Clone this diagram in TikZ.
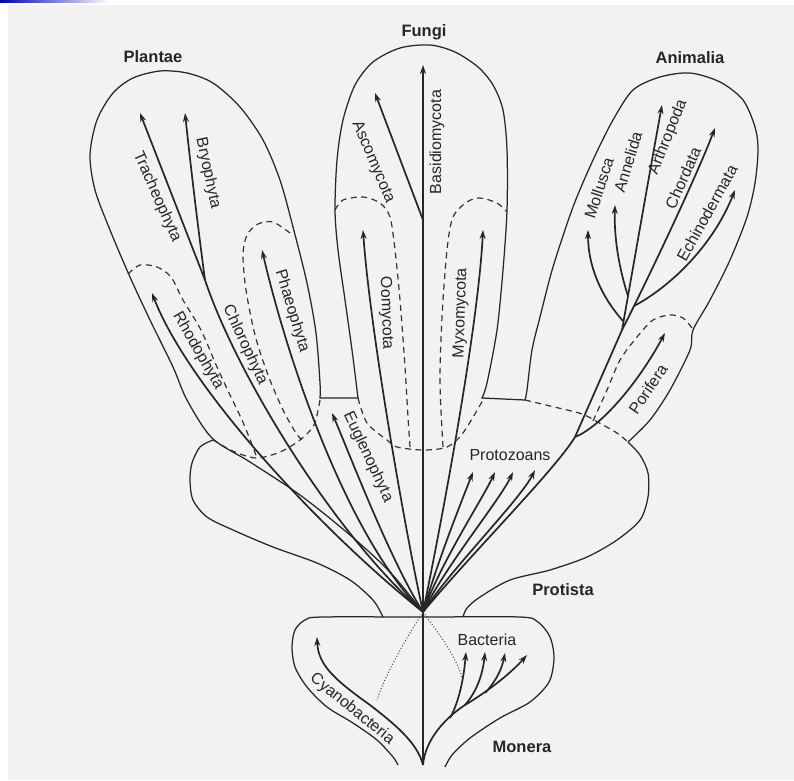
\documentclass[tikz,border=0pt]{standalone}
\usepackage{fontspec}
\setmainfont{Liberation Sans}
\usetikzlibrary{arrows.meta}

\begin{document}
\begin{tikzpicture}[x=1pt, y=-1pt,
    kingdomline/.style={line width=1.25pt, draw=black!85},
    dashline/.style={line width=1.2pt, draw=black!80, dash pattern=on 6pt off 4.5pt},
    branch/.style={line width=1.7pt, draw=black!85, -{Stealth[length=9pt,width=6pt]}},
    stemline/.style={line width=1.7pt, draw=black!85},
    dotline/.style={line width=1pt, draw=black!75, dotted},
    taxon/.style={font=\fontsize{16}{18}\selectfont, text=black!85, inner sep=1pt},
    kingdom/.style={font=\fontsize{16.5}{19}\selectfont\bfseries, text=black!85, inner sep=1pt}]

    % Page background
    \useasboundingbox (0,0) rectangle (794,780);
    \fill[white] (0,0) rectangle (794,780);
    \fill[black!5] (8,5) rectangle (794,780);
    \shade[left color=blue!70!black, right color=white] (0,0) rectangle (110,2.5);

    % Key points of the tree
    \coordinate (root) at (423,612);
    \coordinate (base) at (423,765);
    \coordinate (chloro) at (205,280);
    \coordinate (asco) at (423,220);
    \coordinate (pori) at (575,437);
    \coordinate (ani) at (622,330);

    % Kingdom outlines: Plantae, Fungi, Animalia
    \draw[kingdomline] plot[smooth] coordinates {(423,612) (390,572) (350,535) (300,495) (250,462) (212,438) (187,400) (173,367) (150,320) (130,277) (110,230) (95,190) (90,155) (97,120) (113,93) (133,78) (160,71) (187,73) (213,83) (240,107) (263,140) (280,180) (293,227) (307,283) (316,333) (320,383) (320,398)}
        -- plot[smooth] coordinates {(358,398) (352,350) (345,300) (338,250) (335,210) (337,160) (343,120) (355,85) (373,62) (400,48) (430,45) (455,52) (478,67) (493,85) (503,110) (507,150) (507,210) (503,270) (497,330) (487,383) (482,398)}
        -- plot[smooth] coordinates {(525,400) (527,390) (532,350) (540,317) (553,267) (573,207) (593,160) (613,120) (633,90) (660,77) (690,73) (720,82) (743,100) (755,127) (758,150) (755,183) (747,217) (730,260) (710,300) (693,330) (690,350) (670,390) (650,420) (628,442)};

    % Protista and Monera outlines
    \draw[kingdomline] plot[smooth] coordinates {(213,440) (200,447) (192,463) (190,480) (193,500) (207,517) (233,530) (273,547) (317,563) (350,580) (373,600) (383,617)};
    \draw[kingdomline] plot[smooth] coordinates {(628,442) (640,455) (648,473) (648,497) (640,520) (617,540) (587,557) (550,570) (510,580) (480,597) (467,608) (463,617)};
    \draw[kingdomline] plot[smooth] coordinates {(398,765) (393,757) (377,740) (353,723) (327,707) (307,687) (295,667) (292,647) (295,630) (305,620) (322,617) (423,617) (520,617) (538,622) (550,637) (554,658) (549,682) (530,702) (500,718) (470,738) (452,755) (445,767)};

    % Dashed boundaries
    \draw[dashline] plot[smooth] coordinates {(320,400) (314,425) (300,440) (280,452) (257,458) (235,452) (213,440)};
    \draw[dashline] plot[smooth] coordinates {(128,274) (140,265) (157,267) (171,277) (183,300) (201,330) (217,367) (230,395) (242,420) (251,442) (257,458)};
    \draw[dashline] plot[smooth] coordinates {(290,233) (273,222) (258,224) (247,235) (243,255) (246,290) (255,335) (268,375) (283,410) (296,433) (302,440)};
    \draw[dashline] plot[smooth] coordinates {(358,398) (367,423) (387,440) (397,447) (423,450) (447,447) (463,433) (483,400)};
    \draw[dashline] plot[smooth] coordinates {(335,210) (343,200) (363,197) (380,203) (390,217) (395,250) (400,300) (405,367) (408,417) (410,447)};
    \draw[dashline] plot[smooth] coordinates {(443,447) (440,383) (442,317) (447,250) (453,217) (467,202) (480,198) (497,203) (507,212)};
    \draw[dashline] plot[smooth] coordinates {(525,400) (550,406) (582,414) (603,425) (617,433) (628,442)};
    \draw[dashline] plot[smooth] coordinates {(593,421) (607,390) (620,360) (637,337) (653,320) (670,315) (683,318) (692,328)};

    % Trunk and Fungi
    \draw[branch] (base) -- (423,65) coordinate (basidio);
    \draw[branch] (asco) -- (375,93);

    % Plantae lineages
    \draw[branch] (root) .. controls (320,530) and (188,387) .. (152,293);
    \draw[stemline] (root) .. controls (330,530) and (235,370) .. (chloro);
    \draw[branch] (chloro) -- (140,113);
    \draw[branch] (chloro) .. controls (197,220) and (190,160) .. (185,113);
    \draw[branch] (root) .. controls (350,540) and (290,370) .. (262,250);

    % Protist lineages
    \draw[branch] (root) .. controls (390,560) and (350,455) .. (332,413);
    \draw[branch] (root) .. controls (405,530) and (370,330) .. (363,230);
    \draw[branch] (root) .. controls (440,530) and (478,330) .. (483,230);
    \draw[branch] (root) .. controls (438,560) and (462,500) .. (473,472);
    \draw[branch] (root) .. controls (442,560) and (482,500) .. (495,472);
    \draw[branch] (root) .. controls (446,565) and (500,500) .. (513,472);
    \draw[branch] (root) .. controls (450,570) and (520,500) .. (535,470);

    % Animalia lineages
    \draw[stemline] (root) .. controls (470,555) and (555,470) .. (pori) -- (ani);
    \draw[branch] (pori) .. controls (600,427) and (637,385) .. (665,333);
    \draw[branch] (ani) .. controls (645,285) and (695,180) .. (715,128);
    \draw[branch] (634,306) .. controls (668,288) and (712,248) .. (735,190);
    \draw[branch] (ani) .. controls (630,285) and (650,170) .. (662,105);
    \draw[branch] (628,296) .. controls (618,265) and (614,235) .. (615,205);
    \draw[branch] (623,321) .. controls (600,295) and (588,265) .. (588,230);

    % Monera lineages
    \draw[branch] (base) .. controls (418,745) and (400,728) .. (370,705) .. controls (335,680) and (318,665) .. (317,637);
    \draw[branch] (base) .. controls (425,740) and (445,718) .. (465,705) .. controls (490,690) and (512,672) .. (527,655);
    \draw[branch] (450,718) .. controls (460,700) and (464,675) .. (466,652);
    \draw[branch] (465,705) .. controls (478,690) and (483,672) .. (485,652);
    \draw[branch] (485,693) .. controls (497,680) and (502,668) .. (505,653);
    \draw[dotline] (root) .. controls (405,640) and (385,675) .. (377,700);
    \draw[dotline] (root) .. controls (440,635) and (455,655) .. (462,677);

    % Kingdom names
    \node[kingdom] (plantae) at (153,57) {Plantae};
    \node[kingdom] (fungi) at (424,32) {Fungi};
    \node[kingdom] (animalia) at (690,58) {Animalia};
    \node[kingdom] (protista) at (563,590) {Protista};
    \node[kingdom] (monera) at (522,747) {Monera};

    % Group names
    \node[taxon, rotate=-66] (trach) at (157,197) {Tracheophyta};
    \node[taxon, rotate=-78] (bryo) at (208,173) {Bryophyta};
    \node[taxon, rotate=-60] (rhodo) at (198,351) {Rhodophyta};
    \node[taxon, rotate=-65] (chlorol) at (245,345) {Chlorophyta};
    \node[taxon, rotate=-73] (phaeo) at (292,311) {Phaeophyta};
    \node[taxon, rotate=-65] (eugl) at (368,457) {Euglenophyta};
    \node[taxon, rotate=-67] (ascol) at (373,162) {Ascomycota};
    \node[taxon, rotate=90] (basidiol) at (437,142) {Basidiomycota};
    \node[taxon, rotate=-88] (oomy) at (386,313) {Oomycota};
    \node[taxon, rotate=88] (myxo) at (461,313) {Myxomycota};
    \node[taxon] (protoz) at (510,455) {Protozoans};
    \node[taxon, rotate=72] (mollusca) at (599,188) {Mollusca};
    \node[taxon, rotate=73] (annelida) at (628,162) {Annelida};
    \node[taxon, rotate=68] (arthro) at (668,137) {Arthropoda};
    \node[taxon, rotate=66] (chorda) at (683,178) {Chordata};
    \node[taxon, rotate=61] (echino) at (707,213) {Echinodermata};
    \node[taxon, rotate=56] (porifera) at (648,389) {Porifera};
    \node[taxon] (bacteria) at (487,640) {Bacteria};
    \node[taxon, rotate=-39] (cyano) at (352,709) {Cyanobacteria};
\end{tikzpicture}
\end{document}
